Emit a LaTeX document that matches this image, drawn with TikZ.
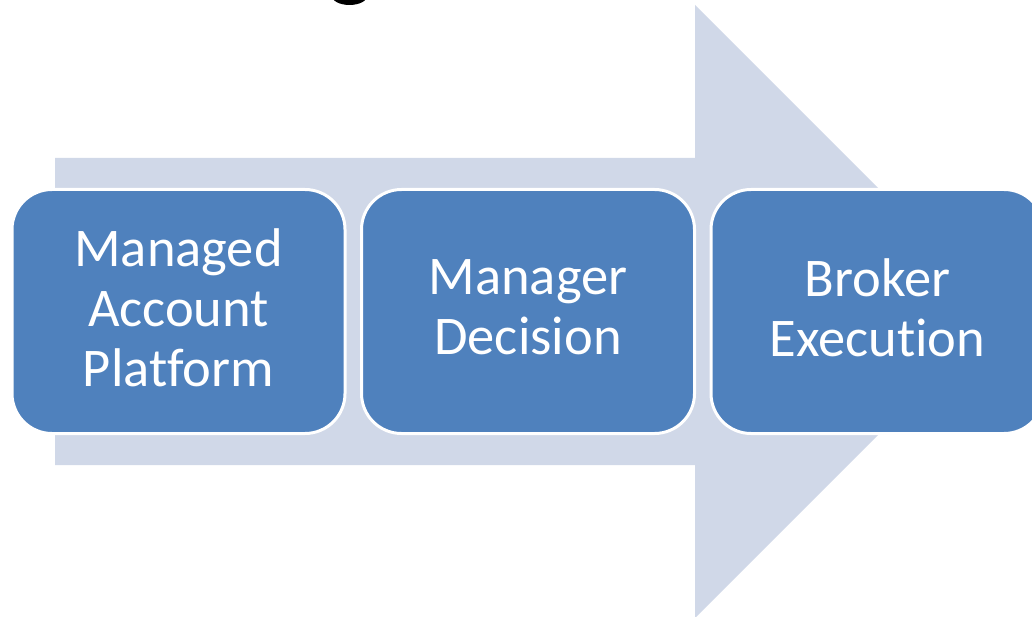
\documentclass[tikz,border=0pt]{standalone}
\usepackage{fontspec}
\setmainfont{Carlito}[Ligatures=NoCommon]
\usepackage{tikz}
\usetikzlibrary{positioning}

\definecolor{arrowgray}{HTML}{D0D8E8}
\definecolor{boxblue}{HTML}{4F81BD}

\begin{document}
\begin{tikzpicture}[x=1pt, y=-1pt,
    stagebox/.style={draw=white, line width=3pt, fill=boxblue, rounded corners=40pt,
        minimum width=333pt, minimum height=244pt, outer sep=0pt,
        text=white, align=center, font=\fontsize{54.5}{60}\selectfont,
        execute at end node={\rule[-8pt]{0pt}{0pt}}}]
    % Fix the frame of the picture
    \clip (0,0) rectangle (1032,617);
    \fill[white] (0,0) rectangle (1032,617);

    % Bit of the title cut off at the top
    \fill[black] (349.5,-4) ellipse (17.5 and 9);

    % Draw the big arrow behind the boxes
    \fill[arrowgray] (55,158) -- (695,158) -- (695,5) -- (1001.5,311.5)
        -- (695,618) -- (695,465) -- (55,465) -- cycle;

    % Place the three stages
    \node[stagebox] (platform) at (178.5,311.5) {Managed\\Account\\Platform};
    \node[stagebox, right=16.5pt of platform] (decision) {Manager\\Decision};
    \node[stagebox, right=16.5pt of decision] (execution) {Broker\\Execution};
\end{tikzpicture}
\end{document}
